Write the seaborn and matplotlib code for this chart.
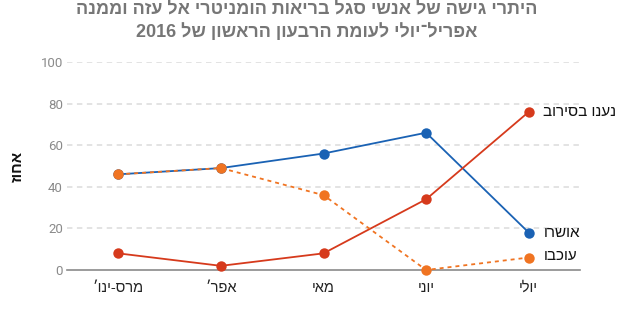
import re
import matplotlib
matplotlib.use("Agg")
import matplotlib.pyplot as plt
import seaborn as sns
import pandas as pd

# Data: share of permit applications (percent) by month
months = ["מרס-ינו׳", "אפר׳", "מאי", "יוני", "יולי"]
approved = [46, 49, 56, 66, 18]
refused = [8, 2, 8, 34, 76]
delayed = [46, 49, 36, 0, 6]
series_names = ["אושרו", "נענו בסירוב", "עוכבו"]
y_ticks = [0, 20, 40, 60, 80, 100]
title_lines = [
    "היתרי גישה של אנשי סגל בריאות הומניטרי אל עזה וממנה",
    "אפריל־יולי לעומת הרבעון הראשון של 2016",
]
y_label = "אחוז"

colors = {"approved": "#1a62b4", "refused": "#d63a1c", "delayed": "#f07422"}


def rtl(text):
    """Reorder a Hebrew string for left-to-right glyph placement."""
    visual = text[::-1]
    return re.sub(r"[0-9]+", lambda m: m.group(0)[::-1], visual)


sns.set_theme(style="white")
plt.rcParams["font.family"] = ["Liberation Sans", "DejaVu Sans"]

labels_visual = [rtl(m) for m in months]
df = pd.DataFrame({
    "month": labels_visual,
    "approved": approved,
    "refused": refused,
    "delayed": delayed,
})

fig = plt.figure(figsize=(6.28, 3.25), dpi=100)
ax = fig.add_axes([67 / 628, 55 / 325, 513 / 628, 208 / 325])

common = dict(marker="o", markersize=7.5, markeredgewidth=0, linewidth=1.3,
              clip_on=False, zorder=3)
sns.lineplot(data=df, x="month", y="approved", color=colors["approved"],
             sort=False, ax=ax, **common)
sns.lineplot(data=df, x="month", y="refused", color=colors["refused"],
             sort=False, ax=ax, **common)
sns.lineplot(data=df, x="month", y="delayed", color=colors["delayed"],
             sort=False, ax=ax, linestyle=(0, (2.2, 2.2)), **common)

ax.set_xlim(-0.5, len(months) - 0.5)
ax.set_ylim(0, 100)
ax.set_yticks(y_ticks)
ax.set_xlabel("")
ax.set_ylabel("")

for s in ["top", "right", "left"]:
    ax.spines[s].set_visible(False)
ax.spines["bottom"].set_color("#8a8a8a")
ax.spines["bottom"].set_linewidth(1.2)

for t in y_ticks[1:]:
    ax.axhline(t, color="#e0e0e0", linewidth=1.3, linestyle=(0, (3, 2.5)),
               zorder=1)

ax.tick_params(axis="y", length=0, pad=3, labelsize=9.5, labelcolor="#8a8a8a")
ax.tick_params(axis="x", length=0, pad=8, labelsize=10.5, labelcolor="#222222")
for lab in ax.get_yticklabels():
    lab.set_family(["Roboto", "DejaVu Sans"])

# Series labels next to the last point
last = len(months) - 1
for name, vals, dy in zip(series_names, [approved, refused, delayed], [0, 0, 1]):
    ax.annotate(rtl(name), xy=(last, vals[-1]), xytext=(10.5, dy),
                textcoords="offset points", ha="left", va="center",
                fontsize=11, color="#111111", annotation_clip=False)

fig.text(18 / 628, 1 - 166 / 325, rtl(y_label), rotation=90, ha="center",
         va="center", fontsize=11, fontweight="bold", color="#111111")

fig.text(307 / 628, 1 - 10 / 325, rtl(title_lines[0]), ha="center",
         va="center", fontsize=13, fontweight="bold", color="#767676")
fig.text(307 / 628, 1 - 32 / 325, rtl(title_lines[1]), ha="center",
         va="center", fontsize=13, fontweight="bold", color="#767676")

fig.savefig("out.png", dpi=100)
